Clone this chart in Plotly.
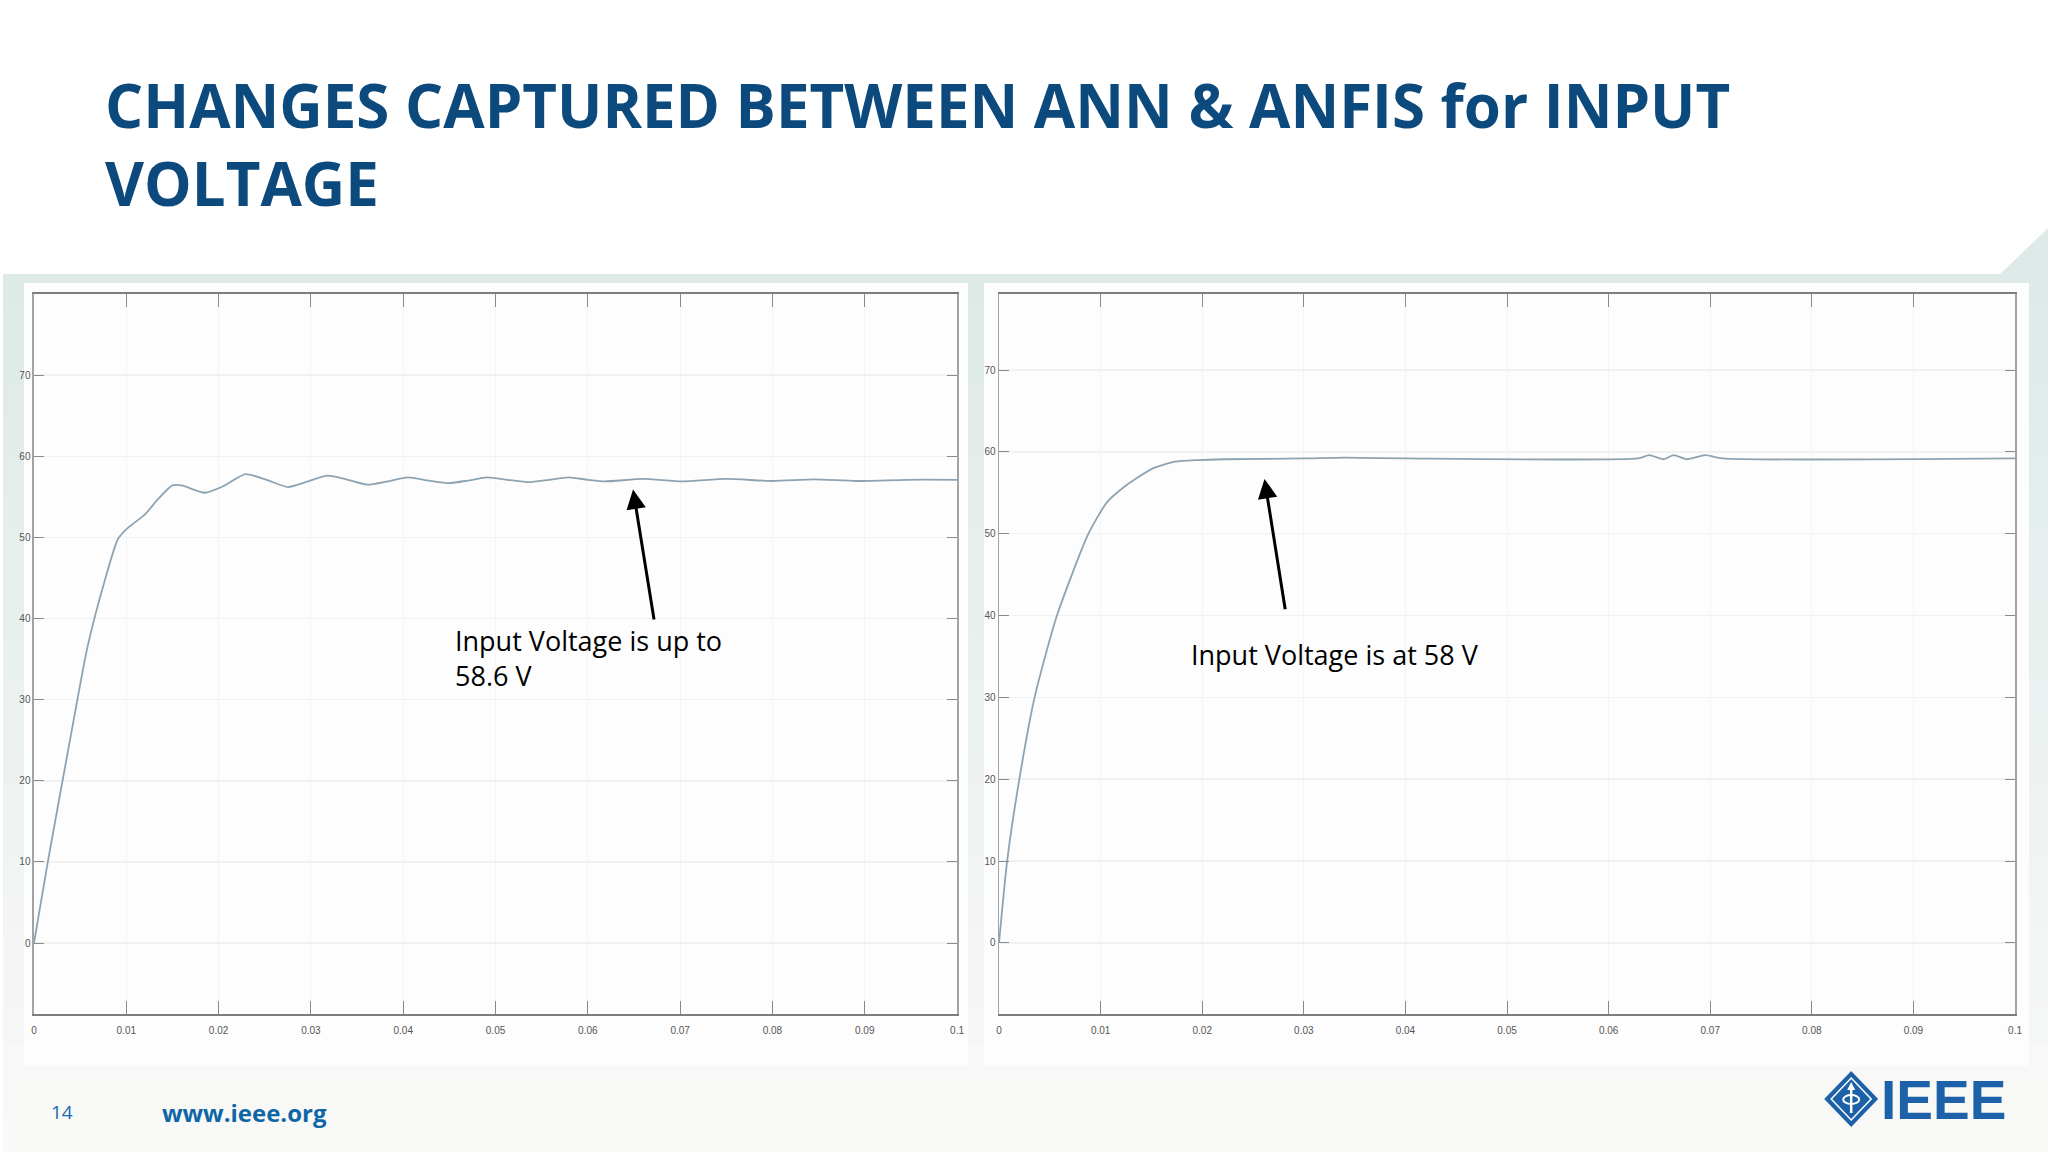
import plotly.graph_objects as go

# ---------------- data ----------------
ann_t = [0, 0.0015, 0.0039, 0.0058, 0.0077, 0.0091, 0.0102, 0.0120, 0.0135, 0.0150,
         0.0160, 0.0185, 0.0205, 0.0229, 0.0252, 0.0275, 0.0297, 0.0318, 0.0340, 0.0361,
         0.0383, 0.0405, 0.0428, 0.0450, 0.0470, 0.0491, 0.0513, 0.0536, 0.0558, 0.0579,
         0.0600, 0.0618, 0.0660, 0.0702, 0.0750, 0.0800, 0.0845, 0.0890, 0.0945, 0.1000]
ann_v = [0, 10, 25, 36.5, 44.8, 49.8, 51.2, 52.8, 54.8, 56.4,
         56.4, 55.5, 56.3, 57.8, 57.1, 56.2, 56.9, 57.6, 57.1, 56.5,
         56.9, 57.4, 57.0, 56.7, 57.0, 57.4, 57.1, 56.8, 57.1, 57.4,
         57.1, 56.9, 57.2, 56.9, 57.2, 56.95, 57.15, 56.95, 57.1, 57.1]

anfis_t = [0, 0.0008, 0.0020, 0.0035, 0.0057, 0.0088, 0.0106, 0.0124, 0.0150, 0.0173,
           0.0196, 0.0222, 0.0300, 0.0340, 0.0400, 0.0629, 0.0640, 0.0654, 0.0664,
           0.0677, 0.0695, 0.0712, 0.1000]
anfis_v = [0, 10, 20, 30, 40, 50, 53.8, 55.8, 57.9, 58.8,
           59.0, 59.1, 59.2, 59.3, 59.2, 59.2, 59.6, 59.1, 59.6,
           59.1, 59.6, 59.2, 59.2]

x_ticks = [0, 0.01, 0.02, 0.03, 0.04, 0.05, 0.06, 0.07, 0.08, 0.09, 0.1]
x_tick_labels = ["0", "0.01", "0.02", "0.03", "0.04", "0.05", "0.06", "0.07", "0.08", "0.09", "0.1"]
y_ticks = [0, 10, 20, 30, 40, 50, 60, 70]
y_tick_labels = ["0", "10", "20", "30", "40", "50", "60", "70"]

title_text = "CHANGES CAPTURED BETWEEN ANN &amp; ANFIS for INPUT<br>VOLTAGE"
note_ann = "Input Voltage is up to<br>58.6 V"
note_anfis = "Input Voltage is at 58 V"
page_number = "14"
site_text = "www.ieee.org"
logo_text = "IEEE"

# arrow head / tail in data coordinates
ann_arrow_head = (0.0649, 55.9)
ann_arrow_tail = (0.0672, 39.7)
anfis_arrow_head = (0.02613, 56.7)
anfis_arrow_tail = (0.02819, 40.6)

# ---------------- layout helpers ----------------
W, H = 2048, 1152          # target canvas used for positioning
FIG_W = 2056               # figure width (compensates an 8px horizontal squeeze seen in rendering)


def px(x):
    return x / W


def py(y):
    return 1 - y / H


LINE_COLOR = "#8ea3b2"
TITLE_COLOR = "#0c4a7d"
BLUE = "#1d62a8"

fig = go.Figure()
fig.add_trace(go.Scatter(x=ann_t, y=ann_v, mode="lines", xaxis="x", yaxis="y",
                         line=dict(color=LINE_COLOR, width=1.8, shape="spline", smoothing=0.6),
                         showlegend=False, hoverinfo="skip"))
fig.add_trace(go.Scatter(x=anfis_t, y=anfis_v, mode="lines", xaxis="x2", yaxis="y2",
                         line=dict(color=LINE_COLOR, width=1.8, shape="spline", smoothing=0.6),
                         showlegend=False, hoverinfo="skip"))

tickfont = dict(family="Liberation Sans Narrow, Liberation Sans, Arial", size=10, color="#555555")
xcommon = dict(range=[0, 0.1], tickvals=x_ticks, ticktext=x_tick_labels, showgrid=True,
               gridcolor="#f4f4f4", gridwidth=1, zeroline=False, showline=True, mirror="ticks",
               linecolor="#7d7d7d", linewidth=2, ticks="inside", ticklen=13, tickwidth=1,
               tickcolor="#8a8a8a", tickfont=tickfont, fixedrange=True, ticklabelstandoff=6)
ycommon = dict(tickvals=y_ticks, ticktext=y_tick_labels, showgrid=True,
               gridcolor="#f1f1f1", gridwidth=1.5, zeroline=False, showline=True, mirror="ticks",
               linecolor="#a3a3a3", linewidth=1.5, ticks="inside", ticklen=10, tickwidth=1,
               tickcolor="#8a8a8a", tickfont=tickfont, fixedrange=True)

shapes = []

# background gradient (teal -> light grey)
top_c = (221, 234, 232)
bot_c = (249, 249, 248)
n = 24
y0, y1 = 274, H
for i in range(n):
    f = i / (n - 1)
    c = tuple(int(round(top_c[k] + (bot_c[k] - top_c[k]) * f)) for k in range(3))
    ya = y0 + (y1 - y0) * i / n
    yb = y0 + (y1 - y0) * (i + 1) / n + 1
    shapes.append(dict(type="rect", xref="paper", yref="paper", x0=0, x1=1, y0=py(yb), y1=py(ya),
                       fillcolor="rgb(%d,%d,%d)" % c, line=dict(width=0), layer="below"))
# diagonal teal corner at top right
shapes.append(dict(type="path", xref="paper", yref="paper",
                   path="M %f,%f L %f,%f L %f,%f Z" % (px(1998), py(275), px(2048), py(227), px(2048), py(275)),
                   fillcolor="rgb(221,234,232)", line=dict(width=0), layer="below"))
# white chart panels
for (a, b) in [(21, 966), (982, 2028)]:
    shapes.append(dict(type="rect", xref="paper", yref="paper", x0=px(a), x1=px(b), y0=py(1066), y1=py(283),
                       fillcolor="#fdfdfd", line=dict(width=0), layer="below"))

# IEEE logo diamond
cx, cy, hw, hh = 1850, 1099, 27, 28
shapes.append(dict(type="path", xref="paper", yref="paper",
                   path="M %f,%f L %f,%f L %f,%f L %f,%f Z" % (px(cx), py(cy - hh), px(cx + hw), py(cy),
                                                             px(cx), py(cy + hh), px(cx - hw), py(cy)),
                   fillcolor=BLUE, line=dict(width=0)))
ih, iw = 21, 20
shapes.append(dict(type="path", xref="paper", yref="paper",
                   path="M %f,%f L %f,%f L %f,%f L %f,%f Z" % (px(cx), py(cy - ih), px(cx + iw), py(cy),
                                                             px(cx), py(cy + ih), px(cx - iw), py(cy)),
                   fillcolor="rgba(0,0,0,0)", line=dict(color="white", width=1.5)))
shapes.append(dict(type="line", xref="paper", yref="paper", x0=px(cx), x1=px(cx), y0=py(cy + 14), y1=py(cy - 10),
                   line=dict(color="white", width=2.5)))
shapes.append(dict(type="path", xref="paper", yref="paper",
                   path="M %f,%f L %f,%f L %f,%f Z" % (px(cx), py(cy - 17), px(cx + 4), py(cy - 9), px(cx - 4), py(cy - 9)),
                   fillcolor="white", line=dict(width=0)))
shapes.append(dict(type="circle", xref="paper", yref="paper", x0=px(cx - 8), x1=px(cx + 8), y0=py(cy + 5), y1=py(cy - 4),
                   fillcolor="rgba(0,0,0,0)", line=dict(color="white", width=2)))

annotations = []
annotations.append(dict(xref="paper", yref="paper", x=px(100), y=py(62), xanchor="left", yanchor="top",
                        text=title_text, showarrow=False, align="left",
                        font=dict(family="Open Sans", size=60, color=TITLE_COLOR, weight="bold")))
annotations.append(dict(xref="paper", yref="paper", x=px(450), y=py(658), xanchor="left", yanchor="middle",
                        text=note_ann, showarrow=False, align="left",
                        font=dict(family="Open Sans", size=27, color="black")))
annotations.append(dict(xref="paper", yref="paper", x=px(1187), y=py(654), xanchor="left", yanchor="middle",
                        text=note_anfis, showarrow=False, align="left",
                        font=dict(family="Open Sans", size=27, color="black")))
annotations.append(dict(xref="x", yref="y", x=ann_arrow_head[0], y=ann_arrow_head[1],
                        axref="x", ayref="y", ax=ann_arrow_tail[0], ay=ann_arrow_tail[1],
                        text="", showarrow=True, arrowhead=2, arrowsize=1.3, arrowwidth=3,
                        arrowcolor="black", standoff=0, startstandoff=0))
annotations.append(dict(xref="x2", yref="y2", x=anfis_arrow_head[0], y=anfis_arrow_head[1],
                        axref="x2", ayref="y2", ax=anfis_arrow_tail[0], ay=anfis_arrow_tail[1],
                        text="", showarrow=True, arrowhead=2, arrowsize=1.3, arrowwidth=3,
                        arrowcolor="black", standoff=0, startstandoff=0))
annotations.append(dict(xref="paper", yref="paper", x=px(46), y=py(1112), xanchor="left", yanchor="middle",
                        text=page_number, showarrow=False,
                        font=dict(family="Open Sans", size=19, color="#1a6aab")))
annotations.append(dict(xref="paper", yref="paper", x=px(157), y=py(1112), xanchor="left", yanchor="middle",
                        text=site_text, showarrow=False,
                        font=dict(family="Open Sans", size=24, color="#0f66a6", weight="bold")))
annotations.append(dict(xref="paper", yref="paper", x=px(1878), y=py(1100), xanchor="left", yanchor="middle",
                        text=logo_text, showarrow=False,
                        font=dict(family="Liberation Sans", size=55, color=BLUE, weight="bold")))

fig.update_layout(
    width=FIG_W, height=H, autosize=False,
    margin=dict(l=0, r=0, t=0, b=0, pad=0),
    paper_bgcolor="white", plot_bgcolor="white",
    xaxis=dict(domain=[px(31), px(955)], anchor="y", **xcommon),
    yaxis=dict(domain=[py(1014), py(294)], range=[-8.75, 80], anchor="x", **ycommon),
    xaxis2=dict(domain=[px(997), px(2014)], anchor="y2", **xcommon),
    yaxis2=dict(domain=[py(1014), py(294)], range=[-8.7, 79.3], anchor="x2", **ycommon),
    shapes=shapes, annotations=annotations, showlegend=False,
)

fig.write_html("out.html", config={"displayModeBar": False, "staticPlot": True},
               post_script="document.body.style.margin='0';document.body.style.overflow='hidden';")
